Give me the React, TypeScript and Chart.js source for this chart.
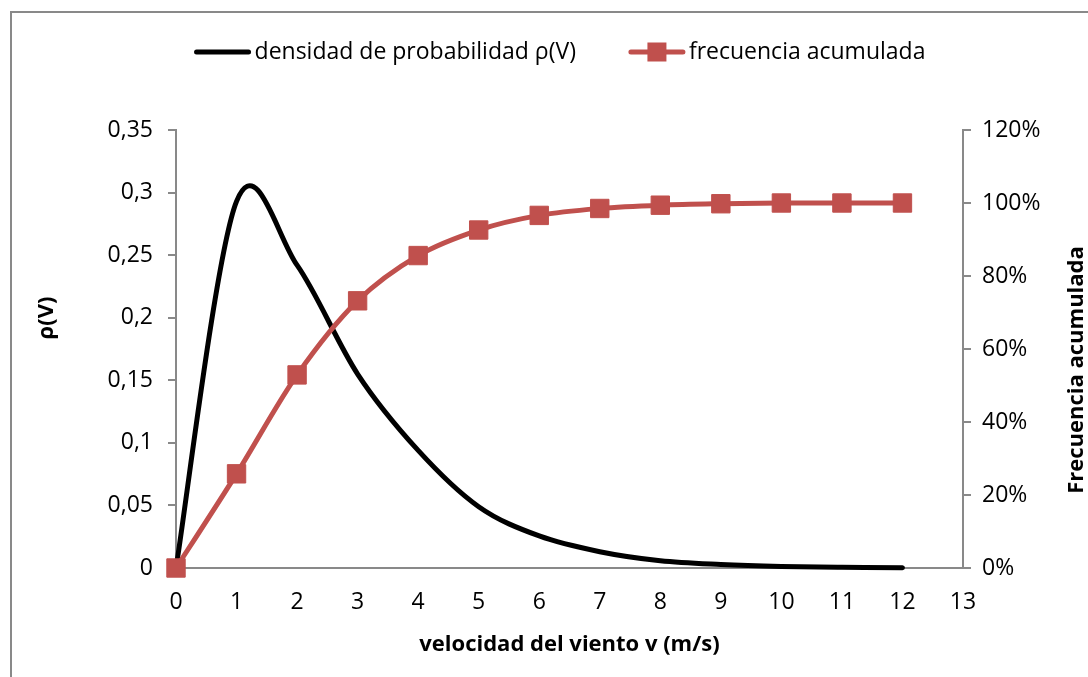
import React, { useEffect, useRef } from 'react';
import { Chart, registerables } from 'chart.js';

Chart.register(...registerables);

// ---- data ----
const velocities = [0, 1, 2, 3, 4, 5, 6, 7, 8, 9, 10, 11, 12];
const densityValues = [0, 0.293, 0.242, 0.155, 0.094, 0.049, 0.0256, 0.013, 0.0058, 0.0028, 0.0012, 0.0005, 0.0002];
const cumulativePercent = [0, 25.8, 52.9, 73.2, 85.6, 92.6, 96.6, 98.5, 99.4, 99.8, 100, 100, 100];

const densityLabel = 'densidad de probabilidad ρ(V)';
const cumulativeLabel = 'frecuencia acumulada';
const xTitle = 'velocidad del viento v (m/s)';
const leftTitle = 'ρ(V)';
const rightTitle = 'Frecuencia acumulada';

const xMin = 0;
const xMax = 13;
const xStep = 1;
const leftMax = 0.35;
const leftStep = 0.05;
const rightMax = 120;
const rightStep = 20;

const FONT = '"Open Sans", sans-serif';
const AXIS_GRAY = '#898989';
const RED = '#C0504D';

// Excel-like smoothing (Catmull-Rom control points, 1/6 of the neighbour chord)
const smoothPlugin = {
  id: 'excelSmooth',
  beforeDatasetDraw(chart: any, args: any) {
    const meta = args.meta;
    const line = meta.dataset;
    if (!line) return;
    if (typeof line.updateControlPoints === 'function') {
      line.updateControlPoints(chart.chartArea, 'x');
    }
    const pts = meta.data;
    const n = pts.length;
    for (let i = 0; i < n; i++) {
      const p = pts[i];
      const prev = pts[Math.max(i - 1, 0)];
      const next = pts[Math.min(i + 1, n - 1)];
      const dx = (next.x - prev.x) / 6;
      const dy = (next.y - prev.y) / 6;
      p.cp1x = p.x - dx;
      p.cp1y = p.y - dy;
      p.cp2x = p.x + dx;
      p.cp2y = p.y + dy;
    }
  },
};

const overlayPlugin = {
  id: 'overlayTexts',
  afterDraw(chart: any) {
    const { ctx, chartArea } = chart;
    const ds = chart.data.datasets;
    ctx.save();
    // legend
    ctx.font = `23px ${FONT}`;
    ctx.textBaseline = 'middle';
    ctx.textAlign = 'left';
    const lineLen = 56;
    const textGap = 4;
    const itemGap = 53;
    const widths = ds.map((d: any) => lineLen + textGap + ctx.measureText(d.label).width);
    const total = widths.reduce((a: number, b: number) => a + b, 0) + itemGap * (ds.length - 1);
    let x = 560 - total / 2;
    const y = 52;
    ds.forEach((d: any, i: number) => {
      ctx.strokeStyle = d.borderColor;
      ctx.lineWidth = 5;
      ctx.lineCap = 'round';
      ctx.beginPath();
      ctx.moveTo(x + 2, y);
      ctx.lineTo(x + lineLen - 2, y);
      ctx.stroke();
      if (d.pointStyle === 'rect' && d.pointRadius > 0) {
        ctx.fillStyle = d.pointBackgroundColor;
        const s = 19;
        ctx.fillRect(x + lineLen / 2 - s / 2, y - s / 2, s, s);
      }
      ctx.fillStyle = '#000';
      ctx.fillText(d.label, x + lineLen + textGap, y);
      x += widths[i] + itemGap;
    });
    // vertical axis titles (reading bottom to top)
    ctx.font = `bold 22px ${FONT}`;
    ctx.textAlign = 'center';
    ctx.textBaseline = 'middle';
    const midY = (chartArea.top + chartArea.bottom) / 2;
    ctx.save();
    ctx.translate(chartArea.left - 129, midY - 31);
    ctx.rotate(-Math.PI / 2);
    ctx.fillText(leftTitle, 0, 0);
    ctx.restore();
    ctx.save();
    ctx.translate(chartArea.right + 114, midY + 21);
    ctx.rotate(-Math.PI / 2);
    ctx.fillText(rightTitle, 0, 0);
    ctx.restore();
    ctx.restore();
  },
};

export default function App() {
  const canvasRef = useRef<HTMLCanvasElement | null>(null);

  useEffect(() => {
    const canvas = canvasRef.current;
    if (!canvas) return;
    const chart = new Chart(canvas, {
      type: 'line',
      data: {
        datasets: [
          {
            label: densityLabel,
            data: velocities.map((v, i) => ({ x: v, y: densityValues[i] })),
            borderColor: '#000000',
            backgroundColor: '#000000',
            borderWidth: 5,
            borderCapStyle: 'round',
            borderJoinStyle: 'round',
            pointRadius: 0,
            pointStyle: 'line',
            tension: 0.4,
            yAxisID: 'y',
            order: 1,
            clip: false,
          } as any,
          {
            label: cumulativeLabel,
            data: velocities.map((v, i) => ({ x: v, y: cumulativePercent[i] })),
            borderColor: RED,
            backgroundColor: RED,
            pointBackgroundColor: RED,
            pointBorderColor: RED,
            pointBorderWidth: 1,
            borderWidth: 5,
            borderJoinStyle: 'round',
            pointStyle: 'rect',
            pointRadius: 13,
            tension: 0.4,
            yAxisID: 'y1',
            order: 0,
            clip: false,
          } as any,
        ],
      },
      options: {
        animation: false,
        responsive: false,
        devicePixelRatio: 1,
        layout: { padding: { top: 130, left: 0, right: 0, bottom: 0 } },
        font: { family: FONT },
        plugins: {
          legend: { display: false },
          tooltip: { enabled: false },
        },
        scales: {
          x: {
            type: 'linear',
            min: xMin,
            max: xMax,
            afterFit: (s: any) => {
              s.height = 109;
            },
            ticks: {
              stepSize: xStep,
              padding: 21,
              color: '#000',
              font: { family: FONT, size: 23 },
              maxRotation: 0,
            },
            grid: { drawOnChartArea: false, drawTicks: false, color: AXIS_GRAY },
            border: { display: true, color: AXIS_GRAY, width: 2 },
            title: {
              display: true,
              text: xTitle,
              color: '#000',
              font: { family: FONT, size: 22, weight: 'bold' },
              padding: { top: 0, bottom: 19 },
            },
          },
          y: {
            type: 'linear',
            position: 'left',
            min: 0,
            max: leftMax,
            afterFit: (s: any) => {
              s.width = 176;
            },
            ticks: {
              stepSize: leftStep,
              padding: 15,
              color: '#000',
              font: { family: FONT, size: 23 },
              callback: (v: any) => String(+Number(v).toFixed(2)).replace('.', ','),
            },
            grid: { drawOnChartArea: false, tickLength: 8, color: AXIS_GRAY, lineWidth: 2 },
            border: { display: true, color: AXIS_GRAY, width: 2 },
          },
          y1: {
            type: 'linear',
            position: 'right',
            min: 0,
            max: rightMax,
            afterFit: (s: any) => {
              s.width = 125;
            },
            ticks: {
              stepSize: rightStep,
              padding: 11,
              color: '#000',
              font: { family: FONT, size: 23 },
              callback: (v: any) => `${Math.round(Number(v))}%`,
            },
            grid: { drawOnChartArea: false, tickLength: 8, color: AXIS_GRAY, lineWidth: 2 },
            border: { display: true, color: AXIS_GRAY, width: 2 },
          },
        },
      } as any,
      plugins: [smoothPlugin, overlayPlugin],
    });
    return () => {
      chart.destroy();
    };
  }, []);

  return (
    <div
      style={{
        position: 'absolute',
        left: 0,
        top: 0,
        width: 1088,
        height: 677,
        overflow: 'hidden',
        background: '#ffffff',
      }}
    >
      <div
        style={{
          position: 'absolute',
          left: 10,
          top: 11,
          width: 1200,
          height: 800,
          borderTop: `2px solid ${AXIS_GRAY}`,
          borderLeft: `2px solid ${AXIS_GRAY}`,
        }}
      />
      <canvas
        ref={canvasRef}
        width={1088}
        height={677}
        style={{ position: 'absolute', left: 0, top: 0, width: 1088, height: 677 }}
      />
    </div>
  );
}
